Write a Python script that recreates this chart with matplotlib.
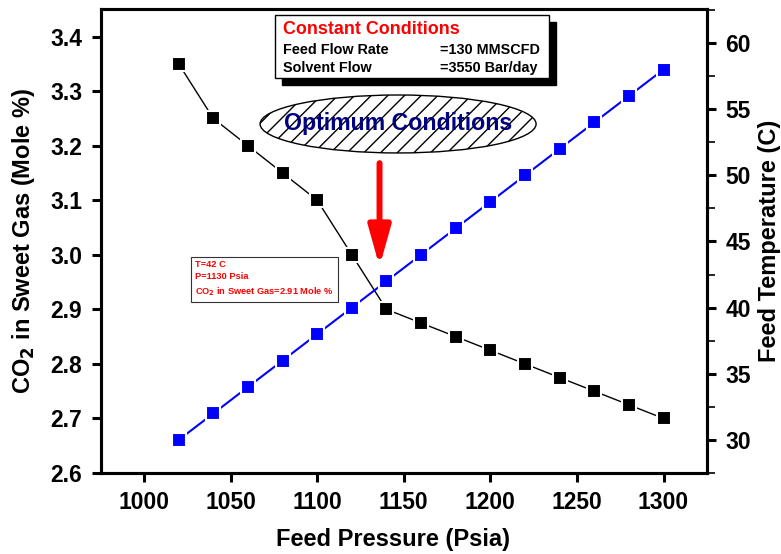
import numpy as np
import matplotlib
matplotlib.use('Agg')
import matplotlib.pyplot as plt
from matplotlib.patches import Ellipse, Rectangle

plt.rcParams['font.family'] = ['Liberation Sans', 'DejaVu Sans']
plt.rcParams['font.weight'] = 'bold'

pressure = [1020, 1040, 1060, 1080, 1100, 1120, 1140, 1160, 1180, 1200, 1220, 1240, 1260, 1280, 1300]
co2 = [3.35, 3.25, 3.20, 3.15, 3.10, 3.00, 2.90, 2.875, 2.85, 2.825, 2.80, 2.775, 2.75, 2.725, 2.70]
temp = [30, 32, 34, 36, 38, 40, 42, 44, 46, 48, 50, 52, 54, 56, 58]

fig = plt.figure(figsize=(7.81, 5.54), dpi=100)
ax = fig.add_axes([0.129, 0.1462, 0.776, 0.837])
ax2 = ax.twinx()

ax.plot(pressure, co2, color='black', lw=1, marker='s', ms=10.5,
        mfc='black', mec='white', mew=1.5, zorder=3)
ax2.plot(pressure, temp, color='blue', lw=1.5, marker='s', ms=10.5,
         mfc='blue', mec='white', mew=1.5, zorder=3)

ax.set_xlim(975, 1325)
ax.set_ylim(2.6, 3.45)
ax2.set_ylim(27.6, 62.55)

ax.set_xticks(np.arange(1000, 1301, 50))
ax.set_yticks(np.arange(2.6, 3.41, 0.1))
ax2.set_yticks(np.arange(30, 61, 5))
ax2.set_yticks(np.arange(27.5, 62.6, 2.5), minor=True)
ax.yaxis.set_major_formatter(matplotlib.ticker.FormatStrFormatter('%.1f'))

for a in (ax, ax2):
    for s in a.spines.values():
        s.set_linewidth(2.2)
    a.tick_params(which='major', direction='out', length=6.8, width=2.2, labelsize=16.5, pad=6.5)
    a.tick_params(which='minor', direction='out', length=5.5, width=1.2)

ax.set_xlabel('Feed Pressure (Psia)', fontsize=17, fontweight='bold')
ax.set_ylabel('CO$_\\mathbf{2}$ in Sweet Gas (Mole %)', fontsize=17, fontweight='bold')
ax2.set_ylabel('Feed Temperature (C)', fontsize=17, fontweight='bold')
ax.xaxis.set_label_coords(0.482, -0.1186)
ax.yaxis.set_label_coords(-0.105, 0.5)
ax2.yaxis.set_label_coords(1.0847, 0.5)

# constant conditions box with shadow
fx = lambda px: px / 781
fy = lambda py: 1 - py / 554
fig.patches.append(Rectangle((fx(282), fy(85)), fx(549) - fx(275), fy(15) - fy(78),
                             transform=fig.transFigure, facecolor='black', edgecolor='black', zorder=5))
fig.patches.append(Rectangle((fx(275), fy(78)), fx(549) - fx(275), fy(15) - fy(78),
                             transform=fig.transFigure, facecolor='white', edgecolor='black', lw=1, zorder=6))
fig.text(fx(283), fy(30), 'Constant Conditions', color='red', fontsize=12.9, fontweight='bold', va='center', zorder=7)
fig.text(fx(283), fy(50), 'Feed Flow Rate', color='black', fontsize=10.4, fontweight='bold', va='center', zorder=7)
fig.text(fx(440), fy(50), '=130 MMSCFD', color='black', fontsize=10.4, fontweight='bold', va='center', zorder=7)
fig.text(fx(283), fy(68), 'Solvent Flow', color='black', fontsize=10.4, fontweight='bold', va='center', zorder=7)
fig.text(fx(440), fy(68), '=3550 Bar/day', color='black', fontsize=10.4, fontweight='bold', va='center', zorder=7)

# optimum ellipse
ell = Ellipse((0.4906, 0.7527), 0.4554, 0.125, transform=ax2.transAxes,
              facecolor='white', edgecolor='black', lw=1, hatch='//', zorder=4)
ax2.add_patch(ell)
ax2.text(0.4906, 0.7527, 'Optimum Conditions', transform=ax2.transAxes, color='#000080',
         fontsize=16.7, fontweight='bold', ha='center', va='center', zorder=5)

# arrow
ax.annotate('', xy=(1136, 2.978), xytext=(1136, 3.168),
            arrowprops=dict(arrowstyle='-|>,head_width=0.67,head_length=2.4',
                            color='red', lw=4.3, shrinkA=0, shrinkB=0), zorder=5)

# optimum values box
ax2.text(fx(195), fy(279), 'T=42 C\nP=1130 Psia\nCO$_\\mathbf{2}$ in Sweet Gas=2.91 Mole %',
         transform=fig.transFigure, color='red', fontsize=6.7, fontweight='bold',
         va='center', ha='left', linespacing=1.5,
         bbox=dict(boxstyle='square,pad=0.45', facecolor='white', edgecolor='#333333', lw=0.8), zorder=6)

fig.savefig('out.png', dpi=100)
